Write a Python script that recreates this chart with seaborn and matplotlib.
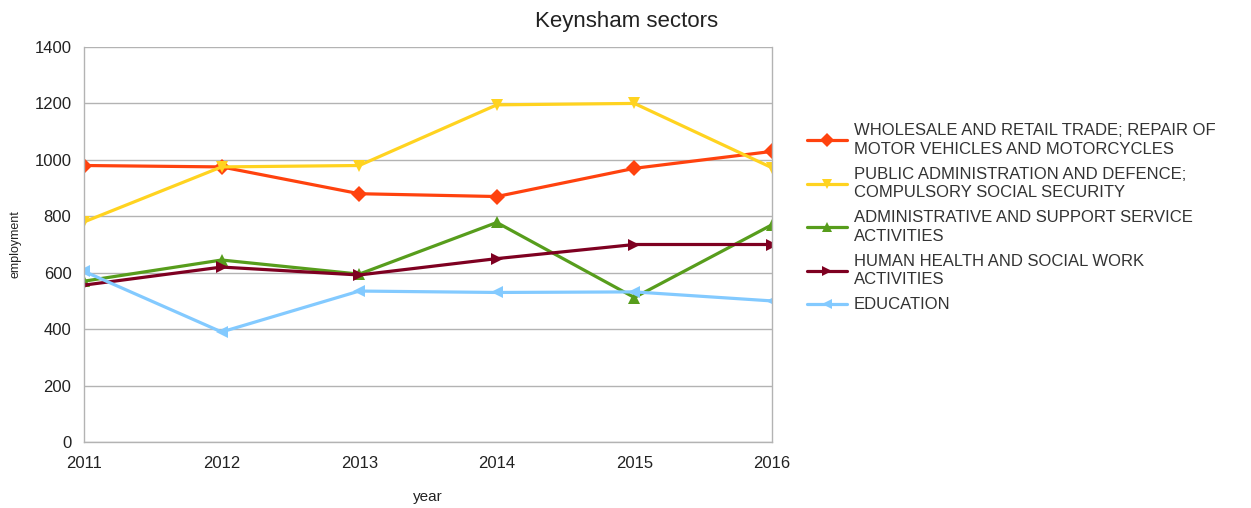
import matplotlib
matplotlib.use("Agg")
import matplotlib.pyplot as plt
import seaborn as sns
import pandas as pd
from matplotlib.lines import Line2D

years = [2011, 2012, 2013, 2014, 2015, 2016]
sectors = [
    "WHOLESALE AND RETAIL TRADE; REPAIR OF\nMOTOR VEHICLES AND MOTORCYCLES",
    "PUBLIC ADMINISTRATION AND DEFENCE;\nCOMPULSORY SOCIAL SECURITY",
    "ADMINISTRATIVE AND SUPPORT SERVICE\nACTIVITIES",
    "HUMAN HEALTH AND SOCIAL WORK\nACTIVITIES",
    "EDUCATION",
]
wholesale = [980, 975, 880, 870, 970, 1030]
public_admin = [780, 975, 980, 1195, 1200, 972]
admin_support = [570, 645, 595, 778, 512, 770]
health = [556, 620, 592, 650, 700, 700]
education = [605, 390, 535, 530, 532, 500]

colors = ["#ff420e", "#ffd320", "#579d1c", "#7e0021", "#83caff"]
markers = ["D", "v", "^", ">", "<"]

series = [wholesale, public_admin, admin_support, health, education]
df = pd.DataFrame(
    [(y, s, v) for s, vals in zip(sectors, series) for y, v in zip(years, vals)],
    columns=["year", "sector", "employment"],
)

sns.set_theme(style="white")
plt.rcParams["font.family"] = ["Liberation Sans", "DejaVu Sans"]

fig = plt.figure(figsize=(12.51, 5.08), dpi=100)
ax = fig.add_axes([84 / 1251, 1 - 442 / 508, (772 - 84) / 1251, (442 - 47) / 508])

sns.lineplot(
    data=df, x="year", y="employment", hue="sector", style="sector",
    palette=dict(zip(sectors, colors)), markers=dict(zip(sectors, markers)),
    dashes=False, linewidth=2.3, markersize=8, markeredgewidth=0,
    ax=ax, legend=False,
)

ax.set_xlim(2011, 2016)
ax.set_ylim(0, 1400)
ax.set_yticks(range(0, 1401, 200))
ax.set_xticks(years)
ax.yaxis.grid(True, color="#b3b3b3", linewidth=1)
ax.set_axisbelow(True)
ax.spines["top"].set_visible(False)
for side in ["left", "bottom", "right"]:
    ax.spines[side].set_color("#b3b3b3")
    ax.spines[side].set_linewidth(1)
ax.tick_params(axis="both", labelsize=12, length=3, width=1)
ax.tick_params(axis="x", pad=7, color="#b3b3b3")
ax.tick_params(axis="y", length=0, pad=9)
for lab in ax.get_xticklabels() + ax.get_yticklabels():
    lab.set_color("#222222")
ax.set_xlabel("year", fontsize=11, color="#222222", labelpad=14)
ax.set_ylabel("employment", fontsize=9, color="#222222", labelpad=9)
fig.suptitle("Keynsham sectors", x=627 / 1251, y=0.978, fontsize=16, color="#222222")

handles = [
    Line2D([0], [0], color=c, marker=m, linewidth=2.3, markersize=7, markeredgewidth=0)
    for c, m in zip(colors, markers)
]
leg = fig.legend(
    handles, sectors, loc="upper left", bbox_to_anchor=(792 / 1251, 1 - 108 / 508),
    frameon=False, fontsize=12, handlelength=2.4, handletextpad=0.4,
    labelspacing=0.6, labelcolor="#333333",
)
for t in leg.get_texts():
    t.set_linespacing(1.3)

fig.savefig("out.png", dpi=100)
